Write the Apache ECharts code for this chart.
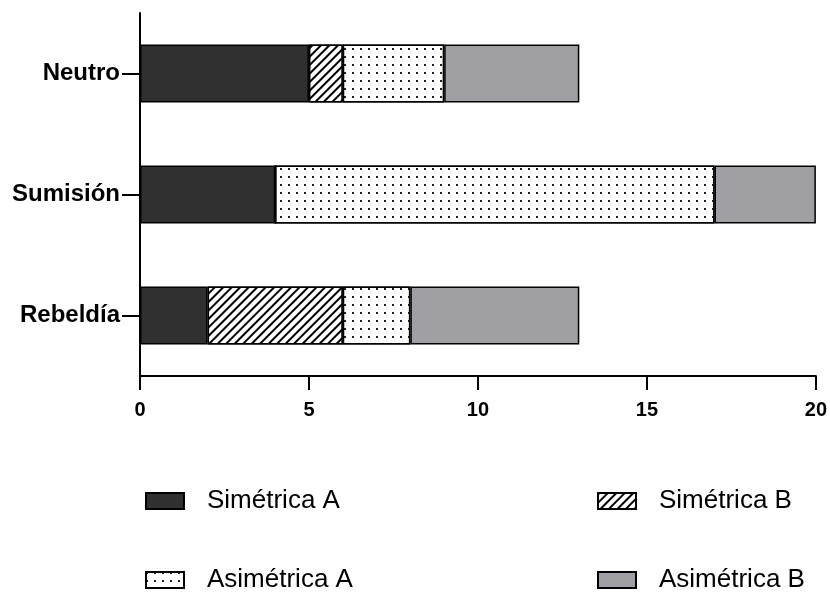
<!DOCTYPE html>
<html>
<head>
<meta charset="utf-8">
<script src="https://cdn.jsdelivr.net/npm/echarts@6/dist/echarts.min.js"></script>
<style>html,body{margin:0;padding:0;background:#fff}#c{width:830px;height:593px}</style>
</head>
<body>
<div id="c"></div>
<script>
const categories = ['Neutro', 'Sumisión', 'Rebeldía'];
const simetricaA = [5, 4, 2];
const simetricaB = [1, 0, 4];
const asimetricaA = [3, 13, 2];
const asimetricaB = [4, 3, 5];
const xTicks = { min: 0, max: 20, interval: 5 };

const FONT = 'Arial, "Liberation Sans", Helvetica, sans-serif';
const chart = echarts.init(document.getElementById('c'));

const border = { borderColor: '#000', borderWidth: 1.5 };
const mk = (name, data, style) => ({
  name, type: 'bar', stack: 'total', data, barWidth: 58,
  itemStyle: Object.assign({}, border, style),
  emphasis: { disabled: true }
});

const legendBase = (name, left, top) => ({
  data: [{ name, icon: 'rect' }], left, top, orient: 'horizontal', padding: 0,
  itemWidth: 38, itemHeight: 16,
  textStyle: { fontFamily: FONT, fontSize: 26, color: '#000', padding: [0, 0, 0, 18] },
  selectedMode: false
});

chart.setOption({
  animation: false,
  backgroundColor: '#fff',
  grid: { left: 140, right: 11, top: 13, bottom: 217, containLabel: false },
  legend: [
    legendBase('Simétrica A', 145, 488),
    legendBase('Simétrica B', 597, 488),
    legendBase('Asimétrica A', 145, 567),
    legendBase('Asimétrica B', 597, 567)
  ],
  xAxis: {
    type: 'value', min: xTicks.min, max: xTicks.max, interval: xTicks.interval,
    axisLine: { show: true, lineStyle: { color: '#000', width: 2 } },
    axisTick: { show: true, length: 14, lineStyle: { color: '#000', width: 2 } },
    splitLine: { show: false },
    axisLabel: { fontFamily: FONT, fontSize: 20, fontWeight: 'bold', color: '#000', margin: 24 }
  },
  yAxis: {
    type: 'category', data: categories, inverse: true,
    axisLine: { show: true, lineStyle: { color: '#000', width: 2 } },
    axisTick: { show: true, alignWithLabel: true, length: 18, lineStyle: { color: '#000', width: 2 } },
    axisLabel: { fontFamily: FONT, fontSize: 24, fontWeight: 'bold', color: '#000', margin: 20, padding: [3, 0, 0, 0] }
  },
  series: [
    mk('Simétrica A', simetricaA, { color: '#303030' }),
    mk('Simétrica B', simetricaB, {
      color: '#ffffff',
      decal: { symbol: 'rect', color: '#000', dashArrayX: [1, 0], dashArrayY: [2, 4], rotation: -Math.PI / 4, backgroundColor: '#fff' }
    }),
    mk('Asimétrica A', asimetricaA, {
      color: '#ffffff',
      decal: { symbol: 'rect', color: '#222', symbolSize: 1, dashArrayX: [2, 6], dashArrayY: [2, 6], backgroundColor: '#fff' }
    }),
    mk('Asimétrica B', asimetricaB, { color: '#a09fa4' })
  ]
});
</script>
</body>
</html>
